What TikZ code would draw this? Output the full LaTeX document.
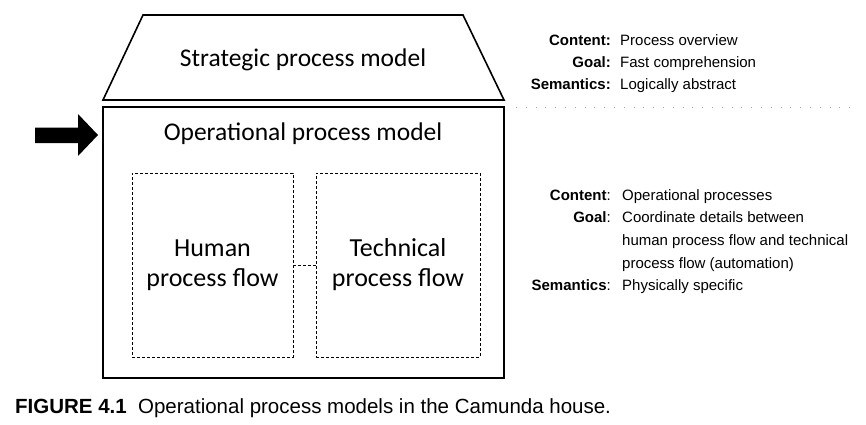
\documentclass[tikz,border=0pt]{standalone}
\usepackage{fontspec}
\setmainfont{Liberation Sans}
\newfontfamily\boxfont{Carlito}
\begin{document}
\begin{tikzpicture}[x=1pt, y=-1pt,
    flowbox/.style={draw, dashed, dash pattern=on 3pt off 2pt, line width=0.9pt,
      minimum height=184pt, align=center, font=\boxfont\fontsize{26}{30}\selectfont, inner sep=0pt},
    keylabel/.style={anchor=base east, inner sep=0pt, font=\bfseries\fontsize{15}{17}\selectfont},
    keyvalue/.style={anchor=base west, inner sep=0pt, font=\fontsize{15}{17}\selectfont}]
    \useasboundingbox (0, 0) rectangle (866, 424);

    % Dach: strategisches Modell
    \draw[line width=1.6pt, line join=miter] (143, 15) -- (463, 15) -- (504, 100) -- (103, 100) -- cycle;
    \node[font=\boxfont\fontsize{25.5}{30}\selectfont] (strategic) at (303, 60) {Strategic process model};

    % Haus: operatives Modell
    \draw[line width=1.6pt] (103, 107) rectangle (504, 378);
    \node[font=\boxfont\fontsize{25.5}{30}\selectfont] (operational) at (303, 134) {Operational process model};

    % Pfeil
    \fill (35, 127.5) -- (78, 127.5) -- (78, 114) -- (98, 135) -- (78, 156) -- (78, 143) -- (35, 143) -- cycle;

    % Innere Abläufe
    \node[flowbox, minimum width=161pt] (human) at (212.5, 265) {Human\\process flow};
    \node[flowbox, minimum width=164pt] (technical) at (398, 265) {Technical\\process flow};
    \draw[dashed, dash pattern=on 3pt off 2pt, line width=0.9pt] (human.east) -- (technical.west);

    % Trennlinie
    \draw[gray!70, line width=0.8pt, dash pattern=on 0.8pt off 9pt] (516, 107) -- (852, 107);

    % Beschreibung oben
    \node[keylabel] (content1) at (611, 45) {Content:};
    \node[keyvalue] (contentval1) at (620, 45) {Process overview};
    \node[keylabel] (goal1) at (611, 67) {Goal:};
    \node[keyvalue] (goalval1) at (620, 67) {Fast comprehension};
    \node[keylabel] (sem1) at (611, 89) {Semantics:};
    \node[keyvalue] (semval1) at (620, 89) {Logically abstract};

    % Beschreibung unten
    \node[keylabel] (content2) at (611, 200) {Content\textmd{:}};
    \node[keyvalue] (contentval2) at (622, 200) {Operational processes};
    \node[keylabel] (goal2) at (611, 222) {Goal\textmd{:}};
    \node[keyvalue] (goalval2a) at (622, 222) {Coordinate details between};
    \node[keyvalue] (goalval2b) at (622, 245) {human process flow and technical};
    \node[keyvalue] (goalval2c) at (622, 268) {process flow (automation)};
    \node[keylabel] (sem2) at (611, 290) {Semantics\textmd{:}};
    \node[keyvalue] (semval2) at (622, 290) {Physically specific};

    % Bildunterschrift
    \node[anchor=base west, inner sep=0pt, font=\fontsize{20.5}{22}\selectfont] (caption) at (15, 413)
      {\textbf{FIGURE 4.1}\hspace{0.55em}Operational process models in the Camunda house.};
\end{tikzpicture}
\end{document}
